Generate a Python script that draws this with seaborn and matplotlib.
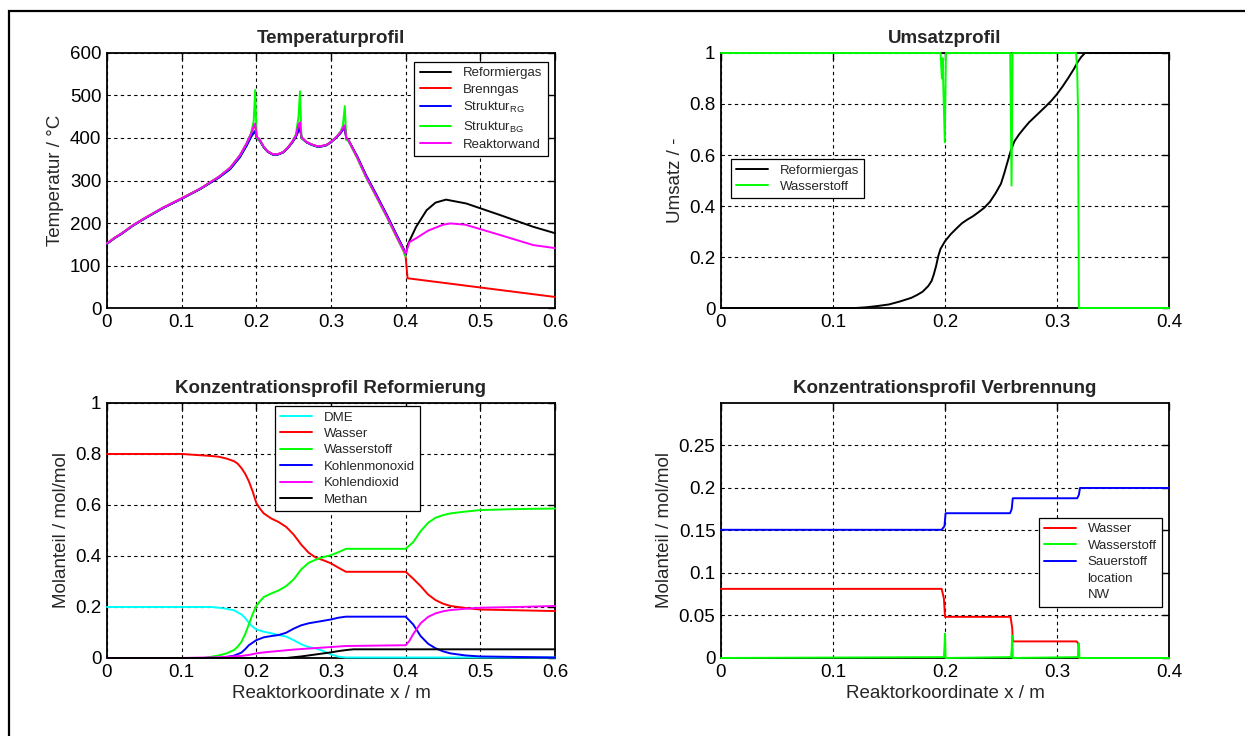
import numpy as np
import pandas as pd
import matplotlib
matplotlib.use("Agg")
import matplotlib.pyplot as plt
from matplotlib.lines import Line2D
from matplotlib.patches import Rectangle
import seaborn as sns

# ---------------- data ----------------
# Temperaturprofil (x in m, T in degC)
x_T_core = [0, 0.01, 0.02, 0.035, 0.05, 0.075, 0.1, 0.125, 0.15, 0.165, 0.178, 0.187, 0.193, 0.1965,
            0.1985, 0.2005, 0.205, 0.21, 0.215, 0.222, 0.229, 0.236, 0.242, 0.248, 0.253, 0.2565,
            0.2585, 0.2605, 0.267, 0.274, 0.281, 0.287, 0.294, 0.3, 0.307, 0.313, 0.316, 0.3185,
            0.3205, 0.323, 0.335, 0.347, 0.36, 0.375, 0.387, 0.397, 0.4]
T_wand_core = [152, 165, 176, 195, 211, 236, 258, 281, 309, 330, 359, 387, 410, 428, 434, 403, 395, 379,
               369, 362, 362, 367, 377, 391, 406, 432, 437, 402, 391, 385, 381, 381, 384, 391, 402, 414,
               424, 430, 400, 396, 355, 309, 266, 215, 172, 137, 128]
T_brenn_core = [152, 165, 176, 195, 211, 236, 258, 281, 309, 330, 359, 387, 410, 426, 431, 402, 394, 379,
                369, 362, 362, 367, 377, 391, 406, 428, 433, 401, 391, 385, 381, 381, 384, 391, 402, 414,
                422, 428, 399, 395, 354, 308, 265, 214, 170, 135, 120]
T_rg_core = [151, 164, 175, 194, 210, 235, 257, 280, 307, 327, 355, 382, 403, 412, 416, 400, 393, 378,
             368, 361, 361, 366, 376, 389, 403, 418, 424, 400, 390, 384, 380, 380, 383, 390, 401, 412,
             420, 426, 398, 396, 357, 312, 269, 218, 175, 140, 125]
T_bg_core = [152, 165, 176, 195, 211, 236, 258, 281, 309, 330, 359, 387, 412, 440, 513, 400, 394, 379,
             369, 362, 362, 367, 377, 391, 408, 450, 510, 400, 391, 385, 381, 381, 384, 391, 402, 416,
             430, 475, 395, 394, 353, 307, 264, 213, 170, 135, 121]
x_T_reform_tail = [0.403, 0.414, 0.428, 0.44, 0.454, 0.481, 0.526, 0.571, 0.6]
T_reform_tail = [150, 191, 230, 248, 255, 246, 219, 191, 176]
x_T_wand_tail = [0.405, 0.414, 0.43, 0.45, 0.46, 0.48, 0.526, 0.571, 0.6]
T_wand_tail = [155, 164, 182, 196, 199, 196, 172, 148, 141]
x_T_brenn_tail = [0.4025, 0.6]
T_brenn_tail = [70, 26]

# Umsatzprofil
x_U_reform = [0, 0.12, 0.13, 0.14, 0.15, 0.16, 0.17, 0.175, 0.18, 0.185, 0.188, 0.19, 0.192, 0.194,
              0.196, 0.2, 0.205, 0.21, 0.215, 0.22, 0.225, 0.23, 0.235, 0.24, 0.245, 0.25, 0.253, 0.256,
              0.259, 0.262, 0.266, 0.27, 0.275, 0.28, 0.285, 0.29, 0.295, 0.3, 0.305, 0.31, 0.315,
              0.318, 0.3215, 0.325, 0.4]
U_reform = [0, 0, 0.003, 0.008, 0.014, 0.026, 0.04, 0.051, 0.064, 0.086, 0.106, 0.132, 0.164, 0.204,
            0.232, 0.262, 0.289, 0.311, 0.332, 0.347, 0.36, 0.376, 0.393, 0.416, 0.449, 0.488, 0.53,
            0.576, 0.621, 0.654, 0.68, 0.702, 0.728, 0.749, 0.77, 0.791, 0.813, 0.839, 0.869, 0.902,
            0.937, 0.961, 0.984, 1.0, 1.0]
x_U_h2 = [0, 0.196, 0.1972, 0.1978, 0.1998, 0.2008, 0.2582, 0.2594, 0.2603, 0.317, 0.318, 0.3188,
          0.3195, 0.4]
U_h2 = [1, 1, 0.9, 0.98, 0.65, 1, 1, 0.48, 1, 1, 0.93, 0.76, 0, 0]

# Konzentrationsprofil Reformierung
x_dme = [0, 0.14, 0.15, 0.16, 0.17, 0.18, 0.185, 0.19, 0.195, 0.2, 0.21, 0.22, 0.23, 0.24, 0.25, 0.26,
         0.27, 0.28, 0.29, 0.3, 0.31, 0.32, 0.6]
y_dme = [0.2, 0.2, 0.197, 0.193, 0.187, 0.171, 0.157, 0.138, 0.123, 0.112, 0.103, 0.097, 0.09, 0.084,
         0.07, 0.054, 0.043, 0.037, 0.027, 0.014, 0.005, 0.002, 0.002]
x_wasser = [0, 0.1, 0.14, 0.15, 0.16, 0.17, 0.175, 0.18, 0.185, 0.19, 0.195, 0.2, 0.205, 0.21, 0.22,
            0.23, 0.24, 0.25, 0.26, 0.27, 0.28, 0.29, 0.3, 0.31, 0.32, 0.4, 0.41, 0.42, 0.43, 0.44,
            0.45, 0.46, 0.48, 0.5, 0.55, 0.6]
y_wasser = [0.8, 0.8, 0.792, 0.789, 0.782, 0.772, 0.762, 0.745, 0.723, 0.693, 0.654, 0.608, 0.585,
            0.567, 0.547, 0.533, 0.514, 0.484, 0.445, 0.413, 0.393, 0.383, 0.371, 0.354, 0.338, 0.338,
            0.311, 0.282, 0.249, 0.227, 0.213, 0.204, 0.196, 0.19, 0.187, 0.184]
x_h2 = [0, 0.13, 0.14, 0.15, 0.16, 0.17, 0.175, 0.18, 0.185, 0.19, 0.195, 0.2, 0.205, 0.21, 0.22, 0.23,
        0.24, 0.25, 0.26, 0.27, 0.28, 0.29, 0.3, 0.31, 0.32, 0.4, 0.41, 0.42, 0.43, 0.44, 0.45, 0.46,
        0.48, 0.5, 0.55, 0.6]
y_h2 = [0, 0, 0.005, 0.01, 0.018, 0.031, 0.044, 0.063, 0.093, 0.132, 0.171, 0.204, 0.223, 0.239, 0.253,
        0.265, 0.282, 0.308, 0.347, 0.373, 0.386, 0.396, 0.403, 0.415, 0.428, 0.428, 0.454, 0.497,
        0.53, 0.55, 0.56, 0.567, 0.574, 0.58, 0.584, 0.586]
x_co = [0, 0.15, 0.16, 0.17, 0.18, 0.185, 0.19, 0.2, 0.21, 0.22, 0.23, 0.24, 0.25, 0.26, 0.27, 0.28,
        0.29, 0.3, 0.31, 0.32, 0.4, 0.41, 0.42, 0.43, 0.44, 0.45, 0.46, 0.48, 0.5, 0.55, 0.6]
y_co = [0, 0, 0.004, 0.009, 0.021, 0.034, 0.05, 0.07, 0.081, 0.086, 0.09, 0.099, 0.115, 0.128, 0.136,
        0.141, 0.146, 0.151, 0.158, 0.162, 0.162, 0.132, 0.086, 0.056, 0.038, 0.026, 0.018, 0.01,
        0.006, 0.004, 0.002]
x_co2 = [0, 0.1, 0.15, 0.18, 0.19, 0.2, 0.21, 0.25, 0.3, 0.32, 0.4, 0.405, 0.41, 0.42, 0.43, 0.44,
         0.45, 0.46, 0.48, 0.5, 0.55, 0.6]
y_co2 = [0, 0, 0.003, 0.008, 0.012, 0.018, 0.022, 0.033, 0.043, 0.047, 0.05, 0.067, 0.093, 0.136,
         0.161, 0.175, 0.183, 0.188, 0.193, 0.197, 0.2, 0.204]
x_ch4 = [0, 0.24, 0.25, 0.26, 0.27, 0.28, 0.29, 0.3, 0.31, 0.32, 0.33, 0.6]
y_ch4 = [0, 0, 0.003, 0.006, 0.01, 0.014, 0.018, 0.022, 0.027, 0.031, 0.034, 0.034]

# Konzentrationsprofil Verbrennung
x_v_wasser = [0, 0.197, 0.199, 0.2, 0.2585, 0.26, 0.2605, 0.3175, 0.319, 0.3195, 0.4]
y_v_wasser = [0.0813, 0.0813, 0.07, 0.0484, 0.0484, 0.035, 0.0195, 0.0195, 0.017, 0, 0]
x_v_h2 = [0, 0.199, 0.1995, 0.2, 0.2005, 0.259, 0.2595, 0.26, 0.2605, 0.3185, 0.319, 0.3195, 0.32, 0.4]
y_v_h2 = [0, 0.001, 0.012, 0.0285, 0, 0.001, 0.01, 0.026, 0, 0.001, 0.008, 0.017, 0, 0]
x_v_o2 = [0, 0.197, 0.1995, 0.2005, 0.258, 0.2595, 0.2605, 0.318, 0.3195, 0.3205, 0.4]
y_v_o2 = [0.1508, 0.1508, 0.155, 0.1703, 0.1703, 0.175, 0.1879, 0.1879, 0.192, 0.2, 0.2]

# ticks / labels
xt_06 = [0, 0.1, 0.2, 0.3, 0.4, 0.5, 0.6]
xt_06_lab = ["0", "0.1", "0.2", "0.3", "0.4", "0.5", "0.6"]
xt_04 = [0, 0.1, 0.2, 0.3, 0.4]
xt_04_lab = ["0", "0.1", "0.2", "0.3", "0.4"]
yt_T = [0, 100, 200, 300, 400, 500, 600]
yt_T_lab = ["0", "100", "200", "300", "400", "500", "600"]
yt_1 = [0, 0.2, 0.4, 0.6, 0.8, 1.0]
yt_1_lab = ["0", "0.2", "0.4", "0.6", "0.8", "1"]
yt_v = [0, 0.05, 0.1, 0.15, 0.2, 0.25]
yt_v_lab = ["0", "0.05", "0.1", "0.15", "0.2", "0.25"]

# ---------------- style ----------------
sns.set_theme(style="white")
plt.rcParams["font.family"] = ["Liberation Sans", "DejaVu Sans"]
plt.rcParams["mathtext.fontset"] = "custom"
plt.rcParams["mathtext.rm"] = "Liberation Sans"
plt.rcParams["mathtext.it"] = "Liberation Sans"
plt.rcParams["mathtext.default"] = "regular"

K, R, B, G, M, C = "#000000", "#FF0000", "#0000FF", "#00FF00", "#FF00FF", "#00FFFF"
LW = 1.4
FS = 13.5

fig = plt.figure(figsize=(12.45, 7.36), dpi=100)
fig.patch.set_facecolor("white")

L1, L2, W = 0.0859, 0.5791, 0.3599
BT, BB, H = 0.5815, 0.106, 0.3465
ax1 = fig.add_axes([L1, BT, W, H])
ax2 = fig.add_axes([L2, BT, W, H])
ax3 = fig.add_axes([L1, BB, W, H])
ax4 = fig.add_axes([L2, BB, W, H])


def draw(ax, x, y, color):
    df = pd.DataFrame({"x": x, "y": y})
    sns.lineplot(data=df, x="x", y="y", ax=ax, color=color, lw=LW, sort=False,
                 estimator=None, legend=False, clip_on=False, zorder=3)


def style(ax, xt, xl, yt, yl, xlim, ylim, title, ylabel, xlabel=None):
    ax.set_xlim(*xlim)
    ax.set_ylim(*ylim)
    ax.set_xticks(xt)
    ax.set_xticklabels(xl)
    ax.set_yticks(yt)
    ax.set_yticklabels(yl)
    ax.grid(True, color="black", linestyle=(0, (3, 3)), linewidth=0.8)
    ax.set_axisbelow(True)
    for s in ax.spines.values():
        s.set_color("black")
        s.set_linewidth(1.3)
        s.set_zorder(2.5)
    ax.tick_params(direction="in", top=True, right=True, length=5, width=1,
                   labelsize=FS, colors="black", pad=4)
    ax.set_title(title, fontsize=13.5, fontweight="bold", pad=7)
    ax.set_ylabel(ylabel, fontsize=FS, labelpad=4)
    ax.set_xlabel(xlabel if xlabel else "", fontsize=FS, labelpad=3)


def legend(ax, handles, labels, **kw):
    leg = ax.legend(handles, labels, fontsize=9.5, frameon=True, fancybox=False, framealpha=1,
                    edgecolor="black", handlelength=2.4, handletextpad=0.9, labelspacing=0.32,
                    borderpad=0.4, borderaxespad=0, **kw)
    leg.get_frame().set_linewidth(0.9)
    leg.set_zorder(5)
    return leg


# --- Temperaturprofil
draw(ax1, x_T_core + x_T_reform_tail, T_rg_core + T_reform_tail, K)
draw(ax1, x_T_core + x_T_brenn_tail, T_brenn_core + T_brenn_tail, R)
draw(ax1, x_T_core, T_rg_core, B)
draw(ax1, x_T_core, T_bg_core, G)
draw(ax1, x_T_core + x_T_wand_tail, T_wand_core + T_wand_tail, M)
style(ax1, xt_06, xt_06_lab, yt_T, yt_T_lab, (0, 0.6), (0, 600), "Temperaturprofil",
      "Temperatur / °C")
h = [Line2D([], [], color=c, lw=LW) for c in (K, R, B, G, M)]
legend(ax1, h, ["Reformiergas", "Brenngas", "Struktur$_{\\mathrm{RG}}$", "Struktur$_{\\mathrm{BG}}$",
                "Reaktorwand"], loc="upper right", bbox_to_anchor=(0.984, 0.965))

# --- Umsatzprofil
draw(ax2, x_U_reform, U_reform, K)
draw(ax2, x_U_h2, U_h2, G)
style(ax2, xt_04, xt_04_lab, yt_1, yt_1_lab, (0, 0.4), (0, 1), "Umsatzprofil", "Umsatz / -")
h = [Line2D([], [], color=c, lw=LW) for c in (K, G)]
legend(ax2, h, ["Reformiergas", "Wasserstoff"], loc="upper left", bbox_to_anchor=(0.022, 0.584))

# --- Konzentrationsprofil Reformierung
draw(ax3, x_dme, y_dme, C)
draw(ax3, x_wasser, y_wasser, R)
draw(ax3, x_h2, y_h2, G)
draw(ax3, x_co, y_co, B)
draw(ax3, x_co2, y_co2, M)
draw(ax3, x_ch4, y_ch4, K)
style(ax3, xt_06, xt_06_lab, yt_1, yt_1_lab, (0, 0.6), (0, 1), "Konzentrationsprofil Reformierung",
      "Molanteil / mol/mol", "Reaktorkoordinate x / m")
h = [Line2D([], [], color=c, lw=LW) for c in (C, R, G, B, M, K)]
legend(ax3, h, ["DME", "Wasser", "Wasserstoff", "Kohlenmonoxid", "Kohlendioxid", "Methan"],
       loc="upper left", bbox_to_anchor=(0.375, 0.988))

# --- Konzentrationsprofil Verbrennung
draw(ax4, x_v_wasser, y_v_wasser, R)
draw(ax4, x_v_h2, y_v_h2, G)
draw(ax4, x_v_o2, y_v_o2, B)
style(ax4, xt_04, xt_04_lab, yt_v, yt_v_lab, (0, 0.4), (0, 0.3), "Konzentrationsprofil Verbrennung",
      "Molanteil / mol/mol", "Reaktorkoordinate x / m")
h = [Line2D([], [], color=c, lw=LW) for c in (R, G, B)] + \
    [Line2D([], [], color="none", lw=0), Line2D([], [], color="none", lw=0)]
legend(ax4, h, ["Wasser", "Wasserstoff", "Sauerstoff", "location", "NW"],
       loc="upper left", bbox_to_anchor=(0.709, 0.549))

# figure frame
fig.add_artist(Rectangle((9 / 1245, -0.05), 1.1, 1.05 - 11 / 736, transform=fig.transFigure,
                         fill=False, edgecolor="black", linewidth=1.6, clip_on=False))

fig.savefig("out.png", dpi=100, facecolor="white")
